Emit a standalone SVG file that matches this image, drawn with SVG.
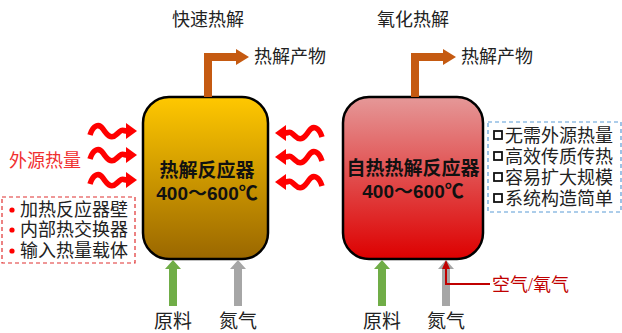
<svg xmlns="http://www.w3.org/2000/svg" width="622" height="333" viewBox="0 0 622 333">
<defs>
<style>
.lbl{font-family:"Liberation Serif","Noto Sans CJK SC",serif;font-size:18px;fill:#222}
.ttl{font-family:"Liberation Serif","Noto Sans CJK SC",serif;font-size:18px;fill:#222;text-anchor:middle}
.bx{font-family:"Liberation Sans","Noto Sans CJK SC",sans-serif;font-size:19px;font-weight:bold;fill:#111;text-anchor:middle}
.wave{fill:none;stroke:#FF0000;stroke-width:5.5}
.out{fill:none;stroke:#C55A11;stroke-width:8}
</style>
<linearGradient id="gY" x1="0" y1="0" x2="0" y2="1">
<stop offset="0" stop-color="#FFC800"/>
<stop offset="1" stop-color="#9A6700"/>
</linearGradient>
<linearGradient id="gR" x1="0" y1="0" x2="0" y2="1">
<stop offset="0" stop-color="#E59898"/>
<stop offset="1" stop-color="#DD0000"/>
</linearGradient>
<g id="wv">
<path class="wave" d="M0,4 C3,-6 9,-8 13,-2 S 21,9 27,3 S 32,0 37,0"/>
<polygon points="36,-8 47,0 36,8" fill="#FF0000"/>
</g>
<g id="upG">
<polygon points="-4,0 4,0 4,-37 8,-37 0,-46 -8,-37 -4,-37" fill="#70AD47"/>
</g>
<g id="upS">
<polygon points="-4,0 4,0 4,-37 8,-37 0,-46 -8,-37 -4,-37" fill="#A6A6A6"/>
</g>
</defs>

<text class="ttl" x="208" y="26">快速热解</text>
<text class="ttl" x="413" y="26">氧化热解</text>

<g id="reactor1">
<rect x="143" y="97" width="125" height="162" rx="26" fill="url(#gY)" stroke="#000" stroke-width="2.5"/>
<text class="bx" x="207" y="177">热解反应器</text>
<text class="bx" x="207" y="200">400～600℃</text>
</g>

<g id="reactor2">
<rect x="343" y="97" width="140" height="162" rx="26" fill="url(#gR)" stroke="#000" stroke-width="2.5"/>
<text class="bx" x="413" y="175">自热热解反应器</text>
<text class="bx" x="413" y="198">400～600℃</text>
</g>

<g id="heat-label">
<text x="9" y="167" style="font-family:'Liberation Serif','Noto Sans CJK SC',serif;font-size:18px;fill:#F03030">外源热量</text>
</g>

<g id="heat-box">
<rect x="2" y="197" width="133" height="66" fill="none" stroke="#E03030" stroke-width="1.2" stroke-dasharray="4,3"/>
<circle cx="12" cy="210" r="2.6" fill="#FF0000"/>
<circle cx="12" cy="230" r="2.6" fill="#FF0000"/>
<circle cx="12" cy="251" r="2.6" fill="#FF0000"/>
<text class="lbl" x="20" y="216">加热反应器壁</text>
<text class="lbl" x="20" y="236">内部热交换器</text>
<text class="lbl" x="20" y="257">输入热量载体</text>
</g>

<g id="adv-box">
<rect x="488" y="122" width="133" height="90" fill="none" stroke="#5B9BD5" stroke-width="1.2" stroke-dasharray="4,3"/>
<g fill="none" stroke="#111" stroke-width="1.8">
<rect x="494" y="131" width="8" height="8"/>
<rect x="494" y="152" width="8" height="8"/>
<rect x="494" y="173" width="8" height="8"/>
<rect x="494" y="194" width="8" height="8"/>
</g>
<text class="lbl" x="505" y="142">无需外源热量</text>
<text class="lbl" x="505" y="163">高效传质传热</text>
<text class="lbl" x="505" y="184">容易扩大规模</text>
<text class="lbl" x="505" y="205">系统构造简单</text>
</g>

<g id="connectors">
<path class="out" d="M208,97 V57 H238"/>
<polygon points="236,49 249,57 236,65" fill="#C55A11"/>
<path class="out" d="M415,97 V57 H445"/>
<polygon points="443,49 456,57 443,65" fill="#C55A11"/>

<use href="#wv" x="90" y="131"/>
<use href="#wv" x="90" y="155"/>
<use href="#wv" x="90" y="180"/>
<use href="#wv" transform="translate(322,133) scale(-1,1)"/>
<use href="#wv" transform="translate(322,157) scale(-1,1)"/>
<use href="#wv" transform="translate(322,182) scale(-1,1)"/>

<use href="#upG" x="173" y="306"/>
<use href="#upS" x="238" y="306"/>
<use href="#upG" x="382" y="306"/>
<use href="#upS" x="446" y="306"/>

<path d="M490,284 H446 V268" fill="none" stroke="#C00000" stroke-width="2"/>
<polygon points="442,269 446,260 450,269" fill="#C00000"/>
</g>

<text class="lbl" x="254" y="63">热解产物</text>
<text class="lbl" x="461" y="63">热解产物</text>
<text class="lbl" x="173" y="328" text-anchor="middle" style="font-size:19px">原料</text>
<text class="lbl" x="238" y="328" text-anchor="middle" style="font-size:19px">氮气</text>
<text class="lbl" x="382" y="328" text-anchor="middle" style="font-size:19px">原料</text>
<text class="lbl" x="446" y="328" text-anchor="middle" style="font-size:19px">氮气</text>
<text x="492" y="291" style="font-family:'Liberation Serif','Noto Sans CJK SC',serif;font-size:18px;fill:#C00000">空气/氧气</text>
</svg>
